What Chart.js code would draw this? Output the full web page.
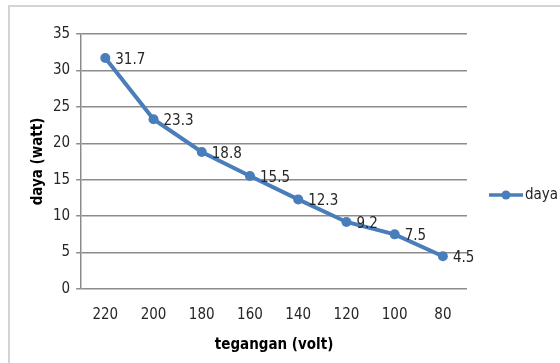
<!DOCTYPE html>
<html>
<head>
<meta charset="utf-8">
<script src="https://cdn.jsdelivr.net/npm/chart.js@4/dist/chart.umd.min.js"></script>
<style>
  html, body { margin: 0; padding: 0; background: #ffffff; }
  #wrap { width: 560px; height: 363px; position: relative; }
</style>
</head>
<body>
<div id="wrap"><canvas id="c" width="560" height="363"></canvas></div>
<script>
// Voltage categories (volt) and measured power (watt)
const categories = ['220', '200', '180', '160', '140', '120', '100', '80'];
const daya = [31.7, 23.3, 18.8, 15.5, 12.3, 9.2, 7.5, 4.5];
const yTicks = [0, 5, 10, 15, 20, 25, 30, 35];

const seriesName = 'daya';
const lineColor = '#4a7ebb';
const fontFamily = '"DejaVu Sans Condensed", "DejaVu Sans", sans-serif';

// Outer frame around the whole chart
const framePlugin = {
  id: 'frame',
  beforeDraw(chart) {
    const ctx = chart.ctx;
    ctx.save();
    ctx.fillStyle = '#ffffff';
    ctx.fillRect(0, 0, chart.width, chart.height);
    ctx.strokeStyle = '#d4d4d4';
    ctx.lineWidth = 2;
    ctx.strokeRect(9, 6, chart.width + 10, chart.height + 10);
    ctx.restore();
  }
};

// Value labels to the right of each point
const valueLabels = {
  id: 'valueLabels',
  afterDatasetsDraw(chart) {
    const ctx = chart.ctx;
    const meta = chart.getDatasetMeta(0);
    const data = chart.data.datasets[0].data;
    ctx.save();
    ctx.font = '15px ' + fontFamily;
    ctx.fillStyle = '#262626';
    ctx.textBaseline = 'middle';
    ctx.textAlign = 'left';
    meta.data.forEach((pt, i) => {
      ctx.fillText(String(data[i]), pt.x + 10, pt.y + 2);
    });
    ctx.restore();
  }
};

// Legend on the right: line with marker and series name
const sideLegend = {
  id: 'sideLegend',
  afterDraw(chart) {
    const ctx = chart.ctx;
    const y = 195;
    const x0 = 489, x1 = 523;
    ctx.save();
    ctx.strokeStyle = lineColor;
    ctx.lineWidth = 3.5;
    ctx.beginPath();
    ctx.moveTo(x0, y);
    ctx.lineTo(x1, y);
    ctx.stroke();
    ctx.fillStyle = lineColor;
    ctx.beginPath();
    ctx.arc((x0 + x1) / 2, y, 4.5, 0, Math.PI * 2);
    ctx.fill();
    ctx.font = '15px ' + fontFamily;
    ctx.fillStyle = '#262626';
    ctx.textBaseline = 'middle';
    ctx.textAlign = 'left';
    ctx.fillText(seriesName, x1 + 2, y);
    ctx.restore();
  }
};

new Chart(document.getElementById('c'), {
  type: 'line',
  data: {
    labels: categories,
    datasets: [{
      label: seriesName,
      data: daya,
      borderColor: lineColor,
      backgroundColor: lineColor,
      borderWidth: 4,
      pointRadius: 5,
      pointHoverRadius: 5,
      pointBorderWidth: 0,
      pointBackgroundColor: lineColor,
      pointBorderColor: lineColor,
      tension: 0
    }]
  },
  options: {
    responsive: false,
    animation: false,
    events: [],
    layout: { padding: { left: 29, right: 93, top: 34, bottom: 10 } },
    plugins: {
      legend: { display: false },
      tooltip: { enabled: false }
    },
    scales: {
      x: {
        offset: true,
        grid: { display: false, drawTicks: false },
        border: { display: false },
        ticks: {
          color: '#262626',
          font: { family: fontFamily, size: 15 },
          padding: 17,
          maxRotation: 0
        },
        title: {
          display: true,
          text: 'tegangan (volt)',
          color: '#000000',
          font: { family: fontFamily, size: 15, weight: 'bold', lineHeight: 1 },
          padding: { top: -3, bottom: 0 }
        }
      },
      y: {
        min: 0,
        max: 35,
        afterBuildTicks(scale) {
          scale.ticks = yTicks.map(v => ({ value: v }));
        },
        grid: {
          color: '#8c8c8c',
          lineWidth: 1.5,
          drawTicks: true,
          tickLength: 5
        },
        border: { display: true, color: '#8c8c8c', width: 1.5 },
        ticks: {
          color: '#262626',
          font: { family: fontFamily, size: 15 },
          padding: 6
        },
        title: {
          display: true,
          text: 'daya (watt)',
          color: '#000000',
          font: { family: fontFamily, size: 15, weight: 'bold' },
          padding: { top: 0, bottom: 0 }
        }
      }
    }
  },
  plugins: [framePlugin, valueLabels, sideLegend]
});
</script>
</body>
</html>
